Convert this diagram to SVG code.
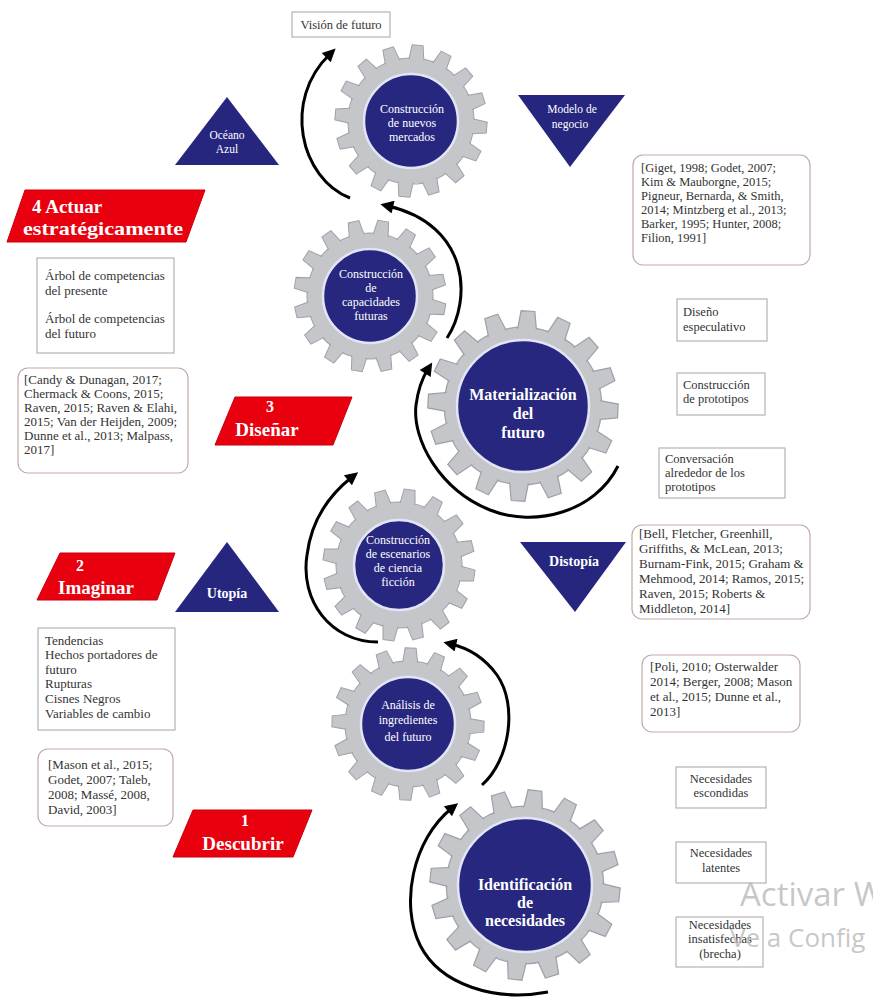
<svg xmlns="http://www.w3.org/2000/svg" xmlns:xlink="http://www.w3.org/1999/xlink" width="873" height="998" viewBox="0 0 873 998">
<defs>
<style>
.t{font-family:"Liberation Serif","Times New Roman",serif;fill:#333;font-size:13px}
.tg{font-family:"Liberation Serif","Times New Roman",serif;fill:#333;font-size:12.5px}
.ts{font-family:"Liberation Serif","Times New Roman",serif;fill:#333;font-size:12.5px}
.tc{text-anchor:middle}
.gt{font-family:"Liberation Serif","Times New Roman",serif;fill:#fff;font-size:12px;text-anchor:middle}
.gtb{font-weight:bold;font-size:16px}
.red{fill:#e8000e;stroke:#c8000b;stroke-width:1}
.rt{font-family:"Liberation Serif","Times New Roman",serif;fill:#fff;font-weight:bold;font-size:19px}
.tri{fill:#26267f}
.tt{font-family:"Liberation Serif","Times New Roman",serif;fill:#fff;font-size:11.5px;text-anchor:middle}
.ttb{font-weight:bold;font-size:14px}
.box{fill:#fff;stroke:#b3b3b3;stroke-width:1.2}
.rbox{fill:#fff;stroke:#c2a9a9;stroke-width:1.2}
.arr{fill:none;stroke:#000;stroke-width:3;marker-end:url(#ah)}
.tooth{fill:#c4c6ca;stroke:#9ea2a8;stroke-width:1}
.gbody{fill:#c4c6ca}
.blue{fill:#27277f;stroke:#e2e5f5;stroke-width:2.5}
.wm{font-family:"Open Sans","Noto Sans",sans-serif;fill:#bdbdbd;fill-opacity:0.85}
</style>
<marker id="ah" viewBox="0 0 10 10" refX="4" refY="5" markerWidth="15" markerHeight="13" markerUnits="userSpaceOnUse" orient="auto"><path d="M0,0 L10,5 L0,10 z" fill="#000"/></marker>
<path id="tooth" class="tooth" d="M-8,-58 L-5.5,-76 L5.5,-76 L8,-58 Z"/>
<g id="gear">
<circle r="63" fill="#c4c6ca" stroke="#9ea2a8" stroke-width="1"/>
<use href="#tooth"/>
<use href="#tooth" transform="rotate(22.5)"/>
<use href="#tooth" transform="rotate(45)"/>
<use href="#tooth" transform="rotate(67.5)"/>
<use href="#tooth" transform="rotate(90)"/>
<use href="#tooth" transform="rotate(112.5)"/>
<use href="#tooth" transform="rotate(135)"/>
<use href="#tooth" transform="rotate(157.5)"/>
<use href="#tooth" transform="rotate(180)"/>
<use href="#tooth" transform="rotate(202.5)"/>
<use href="#tooth" transform="rotate(225)"/>
<use href="#tooth" transform="rotate(247.5)"/>
<use href="#tooth" transform="rotate(270)"/>
<use href="#tooth" transform="rotate(292.5)"/>
<use href="#tooth" transform="rotate(315)"/>
<use href="#tooth" transform="rotate(337.5)"/>
<circle r="62" class="gbody"/>
</g>
</defs>
<rect width="873" height="998" fill="#fff"/>

<g id="vision">
<rect class="box" x="292" y="12" width="98" height="25"/>
<text class="ts tc" x="341" y="29">Visión de futuro</text>
</g>

<g id="gear-mercados">
<use href="#gear" transform="translate(411,121) rotate(5)"/>
<circle class="blue" cx="411" cy="121" r="47"/>
<text class="gt" x="412" y="113">Construcción</text>
<text class="gt" x="412" y="127">de nuevos</text>
<text class="gt" x="412" y="141">mercados</text>
</g>

<g id="gear-capacidades">
<use href="#gear" transform="translate(370,296) rotate(10)"/>
<circle class="blue" cx="370" cy="296" r="47"/>
<text class="gt" x="371" y="278">Construcción</text>
<text class="gt" x="371" y="292">de</text>
<text class="gt" x="371" y="306">capacidades</text>
<text class="gt" x="371" y="320">futuras</text>
</g>

<g id="gear-materializacion">
<use href="#gear" transform="translate(523,406) scale(1.25) rotate(3)"/>
<circle class="blue" cx="523" cy="406" r="66"/>
<text class="gt gtb" x="523" y="400">Materialización</text>
<text class="gt gtb" x="523" y="419">del</text>
<text class="gt gtb" x="523" y="438">futuro</text>
</g>

<g id="gear-escenarios">
<use href="#gear" transform="translate(399,565) rotate(8)"/>
<circle class="blue" cx="399" cy="565" r="45"/>
<text class="gt" x="398" y="544">Construcción</text>
<text class="gt" x="398" y="558">de escenarios</text>
<text class="gt" x="398" y="572">de ciencia</text>
<text class="gt" x="398" y="586">ficción</text>
</g>

<g id="gear-ingredientes">
<use href="#gear" transform="translate(408,724) rotate(2)"/>
<circle class="blue" cx="408" cy="724" r="47"/>
<text class="gt" x="408" y="709">Análisis de</text>
<text class="gt" x="408" y="724">ingredientes</text>
<text class="gt" x="408" y="741">del futuro</text>
</g>

<g id="gear-necesidades">
<use href="#gear" transform="translate(525,885) scale(1.25) rotate(6)"/>
<circle class="blue" cx="525" cy="885" r="67"/>
<text class="gt gtb" x="525" y="890">Identificación</text>
<text class="gt gtb" x="525" y="908">de</text>
<text class="gt gtb" x="525" y="926">necesidades</text>
</g>

<g id="connectors">
<path class="arr" d="M350,198 C300,178 282,100 330,54"/>
<path class="arr" d="M447,338 C472,300 470,225 388,206"/>
<path class="arr" d="M618,466 C595,512 535,528 490,510 C440,490 412,440 416,405 C418,390 421,380 428,369"/>
<path class="arr" d="M378,642 C330,642 300,600 307,555 C311,522 328,496 352,477"/>
<path class="arr" d="M482,785 C510,760 518,705 497,675 C484,657 468,648 451,644"/>
<path class="arr" d="M548,992 C495,1002 440,985 420,945 C400,905 412,840 452,808"/>
</g>

<g id="oceano-azul">
<polygon class="tri" points="227,97 279,165 175,165"/>
<text class="tt" x="227" y="139">Océano</text>
<text class="tt" x="227" y="153">Azul</text>
</g>

<g id="modelo-negocio">
<polygon class="tri" points="518,95 625,95 570,167"/>
<text class="tt" x="572" y="113">Modelo de</text>
<text class="tt" x="570" y="128">negocio</text>
</g>

<g id="distopia">
<polygon class="tri" points="520,542 626,542 575,612"/>
<text class="tt ttb" x="574" y="566">Distopía</text>
</g>

<g id="utopia">
<polygon class="tri" points="227,542 279,612 175,612"/>
<text class="tt ttb" x="227" y="598">Utopía</text>
</g>

<g id="etapa-4">
<polygon class="red" points="25,190 205,190 186,242 7,242"/>
<text class="rt" x="32" y="213">4 Actuar</text>
<text class="rt" x="23" y="235" textLength="160" lengthAdjust="spacingAndGlyphs">estratégicamente</text>
</g>

<g id="etapa-3">
<polygon class="red" points="235,397 352,397 333,445 215,445"/>
<text class="rt tc" x="270" y="412" style="font-size:16px">3</text>
<text class="rt tc" x="267" y="436">Diseñar</text>
</g>

<g id="etapa-2">
<polygon class="red" points="60,553 175,553 157,600 37,600"/>
<text class="rt tc" x="80" y="571" style="font-size:16px">2</text>
<text class="rt tc" x="96" y="594">Imaginar</text>
</g>

<g id="etapa-1">
<polygon class="red" points="193,810 312,810 293,857 173,857"/>
<text class="rt tc" x="245" y="826" style="font-size:16px">1</text>
<text class="rt tc" x="243" y="850">Descubrir</text>
</g>

<g id="arbol">
<rect class="box" x="37" y="258" width="137" height="95"/>
<text class="t" x="45" y="280">Árbol de competencias</text>
<text class="t" x="45" y="295">del presente</text>
<text class="t" x="45" y="323">Árbol de competencias</text>
<text class="t" x="45" y="338">del futuro</text>
</g>

<g id="ref-candy">
<rect class="rbox" x="18" y="368" width="170" height="105" rx="10"/>
<text class="t" x="24" y="384">[Candy &amp; Dunagan, 2017;</text>
<text class="t" x="24" y="398">Chermack &amp; Coons, 2015;</text>
<text class="t" x="24" y="412">Raven, 2015; Raven &amp; Elahi,</text>
<text class="t" x="24" y="426">2015; Van der Heijden, 2009;</text>
<text class="t" x="24" y="440">Dunne et al., 2013; Malpass,</text>
<text class="t" x="24" y="454">2017]</text>
</g>

<g id="tendencias">
<rect class="box" x="38" y="628" width="137" height="102"/>
<text class="t" x="45" y="645">Tendencias</text>
<text class="t" x="45" y="659">Hechos portadores de</text>
<text class="t" x="45" y="674">futuro</text>
<text class="t" x="45" y="688">Rupturas</text>
<text class="t" x="45" y="703">Cisnes Negros</text>
<text class="t" x="45" y="718">Variables de cambio</text>
</g>

<g id="ref-mason">
<rect class="rbox" x="38" y="749" width="135" height="77" rx="10"/>
<text class="t" x="48" y="769">[Mason et al., 2015;</text>
<text class="t" x="48" y="784">Godet, 2007; Taleb,</text>
<text class="t" x="48" y="799">2008; Massé, 2008,</text>
<text class="t" x="48" y="814">David, 2003]</text>
</g>

<g id="ref-giget">
<rect class="rbox" x="633" y="155" width="177" height="110" rx="10"/>
<text class="tg" x="641" y="172">[Giget, 1998; Godet, 2007;</text>
<text class="tg" x="641" y="186">Kim &amp; Mauborgne, 2015;</text>
<text class="tg" x="641" y="200">Pigneur, Bernarda, &amp; Smith,</text>
<text class="tg" x="641" y="214">2014; Mintzberg et al., 2013;</text>
<text class="tg" x="641" y="228">Barker, 1995; Hunter, 2008;</text>
<text class="tg" x="641" y="242">Filion, 1991]</text>
</g>

<g id="diseno-especulativo">
<rect class="box" x="677" y="299" width="90" height="42"/>
<text class="ts" x="683" y="316">Diseño</text>
<text class="ts" x="683" y="331">especulativo</text>
</g>

<g id="construccion-prototipos">
<rect class="box" x="677" y="373" width="88" height="42"/>
<text class="ts" x="683" y="389">Construcción</text>
<text class="ts" x="683" y="403">de prototipos</text>
</g>

<g id="conversacion">
<rect class="box" x="659" y="448" width="126" height="50"/>
<text class="ts" x="665" y="463">Conversación</text>
<text class="ts" x="665" y="477">alrededor de los</text>
<text class="ts" x="665" y="491">prototipos</text>
</g>

<g id="ref-bell">
<rect class="rbox" x="632" y="525" width="178" height="94" rx="10"/>
<text class="t" x="639" y="538">[Bell, Fletcher, Greenhill,</text>
<text class="t" x="639" y="553">Griffiths, &amp; McLean, 2013;</text>
<text class="t" x="639" y="568">Burnam-Fink, 2015; Graham &amp;</text>
<text class="t" x="639" y="583">Mehmood, 2014; Ramos, 2015;</text>
<text class="t" x="639" y="598">Raven, 2015; Roberts &amp;</text>
<text class="t" x="639" y="613">Middleton, 2014]</text>
</g>

<g id="ref-poli">
<rect class="rbox" x="642" y="655" width="158" height="77" rx="10"/>
<text class="t" x="650" y="671">[Poli, 2010; Osterwalder</text>
<text class="t" x="650" y="686">2014; Berger, 2008; Mason</text>
<text class="t" x="650" y="701">et al., 2015; Dunne et al.,</text>
<text class="t" x="650" y="716">2013]</text>
</g>

<g id="necesidades-escondidas">
<rect class="box" x="676" y="767" width="90" height="41"/>
<text class="ts tc" x="721" y="783">Necesidades</text>
<text class="ts tc" x="721" y="797">escondidas</text>
</g>

<g id="necesidades-latentes">
<rect class="box" x="676" y="842" width="90" height="41"/>
<text class="ts tc" x="721" y="857">Necesidades</text>
<text class="ts tc" x="721" y="872">latentes</text>
</g>

<g id="necesidades-insatisfechas">
<rect class="box" x="676" y="917" width="87" height="50"/>
<text class="ts tc" x="720" y="929">Necesidades</text>
<text class="ts tc" x="720" y="943">insatisfechas</text>
<text class="ts tc" x="720" y="958">(brecha)</text>
</g>

<g id="watermark">
<text class="wm" x="740" y="906" font-size="33">Activar W</text>
<text class="wm" x="730" y="947" font-size="26">Ve a Config</text>
</g>
</svg>
